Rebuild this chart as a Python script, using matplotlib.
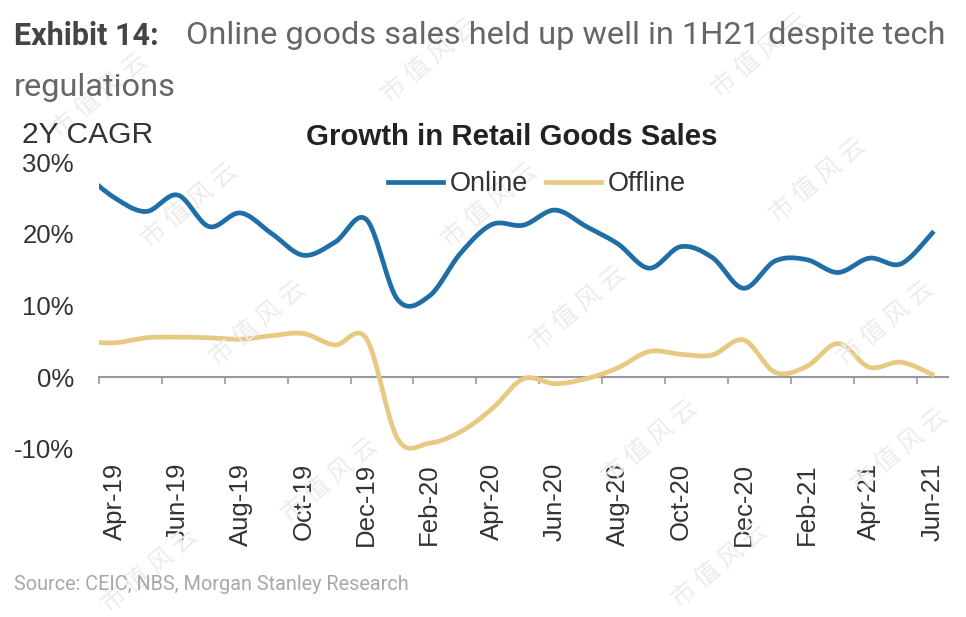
import numpy as np
import matplotlib
matplotlib.use("Agg")
import matplotlib.pyplot as plt
from matplotlib.patches import Rectangle

plt.rcParams["font.family"] = ["Liberation Sans", "DejaVu Sans"]

# Monthly 2Y CAGR (%), Mar-19 .. Jun-21 (Mar-19 only sets the line entering at the left edge)
months = ["Mar-19", "Apr-19", "May-19", "Jun-19", "Jul-19", "Aug-19", "Sep-19", "Oct-19",
          "Nov-19", "Dec-19", "Jan-20", "Feb-20", "Mar-20", "Apr-20", "May-20", "Jun-20",
          "Jul-20", "Aug-20", "Sep-20", "Oct-20", "Nov-20", "Dec-20", "Jan-21", "Feb-21",
          "Mar-21", "Apr-21", "May-21", "Jun-21"]
online = [28.5, 25.0, 23.1, 25.4, 21.0, 22.9, 20.0, 17.0, 18.8, 22.0, 10.8, 11.3,
          17.3, 21.3, 21.2, 23.3, 21.0, 18.6, 15.2, 18.2, 16.7, 12.4, 16.2, 16.4,
          14.6, 16.6, 15.8, 20.1]
offline = [5.0, 4.8, 5.5, 5.6, 5.5, 5.3, 5.8, 6.1, 4.5, 5.4, -8.6, -9.2,
           -7.6, -4.4, -0.2, -0.9, -0.2, 1.3, 3.6, 3.2, 3.1, 5.2, 0.7, 1.5,
           4.7, 1.4, 2.1, 0.4]
label_months = ["Apr-19", "Jun-19", "Aug-19", "Oct-19", "Dec-19", "Feb-20", "Apr-20",
                "Jun-20", "Aug-20", "Oct-20", "Dec-20", "Feb-21", "Apr-21", "Jun-21"]
yticks = [-10, 0, 10, 20, 30]


def smooth(x, y, n=20):
    # Excel-style smoothed line (uniform Catmull-Rom through the points)
    x = np.asarray(x, float)
    y = np.asarray(y, float)
    px = np.concatenate([[x[0]], x, [x[-1]]])
    py = np.concatenate([[y[0]], y, [y[-1]]])
    t = np.linspace(0, 1, n, endpoint=False)[:, None]
    xs, ys = [], []
    for i in range(1, len(px) - 2):
        for p, out in ((px, xs), (py, ys)):
            p0, p1, p2, p3 = p[i - 1], p[i], p[i + 1], p[i + 2]
            c = 0.5 * ((2 * p1) + (-p0 + p2) * t + (2 * p0 - 5 * p1 + 4 * p2 - p3) * t ** 2
                       + (-p0 + 3 * p1 - 3 * p2 + p3) * t ** 3)
            out.extend(c.ravel())
    xs.append(x[-1])
    ys.append(y[-1])
    return np.array(xs), np.array(ys)


x = np.arange(len(months)) - 1  # Apr-19 -> 0

fig = plt.figure(figsize=(9.66, 6.17), dpi=100)
ax = fig.add_axes([99 / 966, 1 - 449 / 617, (948 - 99) / 966, (449 - 162) / 617])

# clip only left/right so the stroke can sit on the -10% edge
clip = Rectangle((0, -0.1), 1, 1.2, transform=ax.transAxes, visible=False)
ax.add_patch(clip)

sx, sy = smooth(x, online)
l1, = ax.plot(sx, sy, color="#1f6ea6", lw=3.4, label="Online", zorder=3)
sx, sy = smooth(x, offline)
l2, = ax.plot(sx, sy, color="#e8c981", lw=3.4, label="Offline", zorder=3)
for ln in (l1, l2):
    ln.set_clip_path(clip)

ax.set_xlim(-0.5, len(months) - 1.5)
ax.set_ylim(-10, 30)
ax.set_yticks(yticks)
ax.set_yticklabels(["%d%%" % v for v in yticks], fontsize=18.5, color="#333333")
ax.tick_params(axis="y", length=0, pad=18)
for s in ["top", "right", "left", "bottom"]:
    ax.spines[s].set_visible(False)

pos = [months.index(m) - 1 for m in label_months]
ax.set_xticks(pos)
ax.set_xticklabels(label_months, rotation=90, fontsize=18.5, color="#333333")
ax.tick_params(axis="x", length=0, pad=10)

# zero line with tick marks at category boundaries
zero = ax.secondary_xaxis((0 - ax.get_ylim()[0]) / (ax.get_ylim()[1] - ax.get_ylim()[0]))
zero.set_xticks(np.array(pos) - 0.5)
zero.set_xticklabels([])
zero.tick_params(length=5, width=1.2, color="#999999")
zero.spines["bottom"].set_color("#999999")
zero.spines["bottom"].set_linewidth(1.5)

fig.legend(loc="center", bbox_to_anchor=(537 / 966, 1 - 184 / 617), ncol=2, frameon=False,
           fontsize=19.5, handlelength=2.05, handletextpad=0.25, columnspacing=0.65,
           labelcolor="#333333")

fig.text(512 / 966, 1 - 137 / 617, "Growth in Retail Goods Sales", ha="center", va="center",
         fontsize=21.2, fontweight="bold", color="#222222")
fig.text(22 / 966, 1 - 135 / 617, "2Y CAGR", ha="left", va="center", fontsize=21.6,
         color="#333333")

fig.text(14 / 966, 1 - 36 / 617, "Exhibit 14:", ha="left", va="center", fontsize=22,
         fontweight="bold", family="Roboto", color="#444444")
fig.text(186 / 966, 1 - 36 / 617, "Online goods sales held up well in 1H21 despite tech",
         ha="left", va="center", fontsize=23.4, family="Roboto", color="#666666")
fig.text(14 / 966, 1 - 87 / 617, "regulations", ha="left", va="center", fontsize=23.4,
         family="Roboto", color="#666666")
fig.text(14 / 966, 1 - 585 / 617, "Source: CEIC, NBS, Morgan Stanley Research", ha="left",
         va="center", fontsize=14.3, family="Roboto", color="#a8a8a8")

# faint watermark
marks = [(100, 95), (430, 60), (760, 55), (190, 205), (490, 205), (818, 180), (258, 323),
         (578, 308), (886, 323), (330, 480), (650, 442), (900, 450), (150, 570), (720, 565)]
for mx, my in marks:
    fig.text(mx / 966, 1 - my / 617, "市 值 风 云", ha="center", va="center", rotation=40,
             fontsize=18, family="Noto Sans CJK SC", color="#ececec", zorder=0)

fig.savefig("out.png", dpi=100)
